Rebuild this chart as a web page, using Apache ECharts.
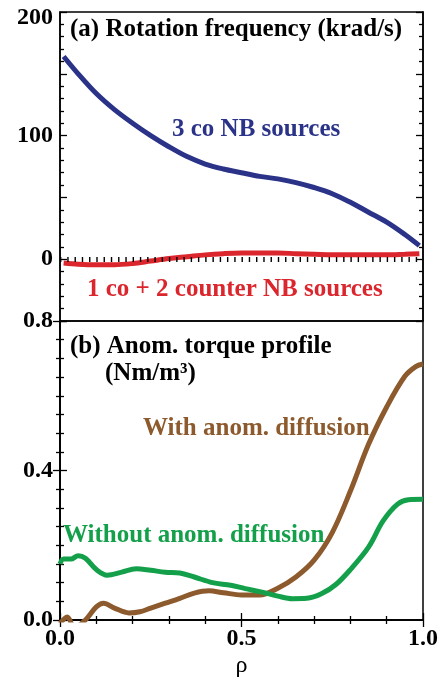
<!DOCTYPE html>
<html>
<head>
<meta charset="utf-8">
<script src="https://cdn.jsdelivr.net/npm/echarts@6/dist/echarts.min.js"></script>
<style>
    html, body {margin: 0; padding: 0; background: #fff;}
    #chart {width: 446px; height: 679px;}
</style>
</head>
<body>
<div id="chart"></div>
<script>
// (a) rotation frequency, krad/s
var rhoA = [0.01, 0.05, 0.10, 0.15, 0.20, 0.25, 0.30, 0.35, 0.40, 0.45, 0.50,
    0.55, 0.60, 0.65, 0.70, 0.75, 0.80, 0.85, 0.90, 0.95, 0.99];
var coSources = [164, 150, 134, 121, 110, 100, 91, 83, 77, 73, 70,
    67, 65, 62, 58, 53, 46, 38, 30, 20, 11];
var counterSources = [-3, -4, -4.5, -4.5, -3.5, -1.5, 0.5, 2, 3.5, 4.5, 5,
    5, 5, 4.5, 4, 3.5, 3.5, 3.5, 3.5, 4, 4.5];

// (b) anomalous torque profile, Nm/m3
var rhoWith = [0.00, 0.02, 0.04, 0.07, 0.10, 0.12, 0.15, 0.19, 0.22, 0.25, 0.29, 0.33, 0.37,
    0.41, 0.45, 0.50, 0.55, 0.60, 0.65, 0.70, 0.75, 0.80, 0.85, 0.90, 0.95, 0.98, 1.00];
var withDiff = [-0.01, 0.008, -0.02, 0.0, 0.035, 0.045, 0.032, 0.019, 0.022, 0.032, 0.045, 0.058, 0.072,
    0.078, 0.073, 0.067, 0.067, 0.085, 0.115, 0.16, 0.234, 0.345, 0.47, 0.57, 0.652, 0.678, 0.685];
var rhoWithout = [0.00, 0.01, 0.03, 0.05, 0.07, 0.10, 0.13, 0.17, 0.21, 0.25, 0.29, 0.33, 0.37, 0.42,
    0.47, 0.51, 0.55, 0.60, 0.64, 0.68, 0.72, 0.76, 0.80, 0.85, 0.89, 0.93, 0.96, 1.00];
var withoutDiff = [0.15, 0.163, 0.163, 0.172, 0.165, 0.135, 0.12, 0.128, 0.137, 0.133, 0.128, 0.126, 0.115, 0.1,
    0.093, 0.084, 0.076, 0.064, 0.057, 0.058, 0.07, 0.095, 0.135, 0.195, 0.265, 0.31, 0.322, 0.323];

var FONT = "'Liberation Serif', 'DejaVu Serif', serif";
var C_BLUE = '#2a3388', C_RED = '#da262c', C_BROWN = '#8c5a2c', C_GREEN = '#14a04a';
var TXT = 25;

function pairs(xs, ys) {
    return xs.map(function (x, i) { return [x, ys[i]]; });
}

function labelStyle(extra) {
    var s = {fontFamily: FONT, fontWeight: 'bold', fontSize: 24, color: '#000'};
    for (var k in extra) { s[k] = extra[k]; }
    return s;
}

// y axis shared settings
function yAxisOf(grid, pos, min, max, interval, minorSplit, labels) {
    return {
        type: 'value', gridIndex: grid, position: pos,
        min: min, max: max, interval: interval,
        axisLine: {show: true, lineStyle: {color: '#000', width: 1.5}},
        axisTick: {show: true, inside: true, length: 7, lineStyle: {color: '#000', width: 1.3}},
        minorTick: {show: true, splitNumber: minorSplit, length: 4, lineStyle: {color: '#000', width: 1.3}},
        splitLine: {show: false},
        axisLabel: labels || {show: false}
    };
}

function text(x, y, str, color) {
    return {
        type: 'text', left: x, top: y - TXT / 2 + 2,
        style: {text: str, fill: color, font: 'bold ' + TXT + 'px ' + FONT}
    };
}

function line(name, xi, yi, data, color, extra) {
    var s = {
        name: name, type: 'line', xAxisIndex: xi, yAxisIndex: yi, data: data,
        smooth: 0.35, symbol: 'none', lineStyle: {color: color, width: 5}
    };
    for (var j in extra) { s[j] = extra[j]; }
    return s;
}

var chart = echarts.init(document.getElementById('chart'));
chart.setOption({
    animation: false,
    grid: [
        {left: 60, top: 12, width: 363, height: 309, show: true, borderColor: '#000', borderWidth: 1.5},
        {left: 60, top: 321, width: 363, height: 309, show: true, borderColor: '#000', borderWidth: 1.5}
    ],
    xAxis: [
        {type: 'value', gridIndex: 0, min: 0, max: 1, show: false},
        {
            type: 'value', gridIndex: 1, position: 'bottom', min: 0, max: 1, interval: 0.5,
            axisLine: {lineStyle: {color: '#000', width: 1.5}},
            axisTick: {inside: true, length: 7, lineStyle: {color: '#000', width: 1.3}},
            minorTick: {show: true, splitNumber: 5, length: 4, lineStyle: {color: '#000', width: 1.3}},
            splitLine: {show: false},
            axisLabel: labelStyle({margin: 7, formatter: function (v) { return v.toFixed(1); }}),
            name: 'ρ', nameLocation: 'middle', nameGap: 34,
            nameTextStyle: {fontFamily: FONT, fontSize: 24, color: '#000'}
        },
        {
            type: 'value', gridIndex: 1, position: 'top', min: 0, max: 1, interval: 0.5,
            axisLine: {lineStyle: {color: '#000', width: 1.5}},
            axisTick: {inside: true, length: 7, lineStyle: {color: '#000', width: 1.3}},
            minorTick: {show: true, splitNumber: 5, length: 4, lineStyle: {color: '#000', width: 1.3}},
            splitLine: {show: false},
            axisLabel: {show: false}
        }
    ],
    yAxis: [
        yAxisOf(0, 'left', -50, 200, 50, 5, labelStyle({
            margin: 7,
            formatter: function (v) {
                if (v === 200) return '{top|200}';
                return v % 100 === 0 ? String(v) : '';
            },
            rich: {top: labelStyle({padding: [12, 0, 0, 0]})}
        })),
        yAxisOf(0, 'right', -50, 200, 50, 5),
        yAxisOf(1, 'left', 0, 0.8, 0.4, 8, labelStyle({
            margin: 7,
            formatter: function (v) { return v.toFixed(1); }
        })),
        yAxisOf(1, 'right', 0, 0.8, 0.4, 8)
    ],
    series: [
        line('3 co NB sources', 0, 0, pairs(rhoA, coSources), C_BLUE),
        line('1 co + 2 counter NB sources', 0, 0, pairs(rhoA, counterSources), C_RED, {
            markLine: {
                silent: true, symbol: 'none', label: {show: false},
                lineStyle: {color: '#000', width: 5, type: [1.4, 5.86], cap: 'butt'},
                data: [{yAxis: 0}]
            }
        }),
        line('With anom. diffusion', 1, 2, pairs(rhoWith, withDiff), C_BROWN),
        line('Without anom. diffusion', 1, 2, pairs(rhoWithout, withoutDiff), C_GREEN)
    ],
    graphic: [
        text(70, 28, '(a) Rotation frequency (krad/s)', '#000'),
        text(172, 128, '3 co NB sources', C_BLUE),
        text(87, 288, '1 co + 2 counter NB sources', C_RED),
        text(70, 345, '(b) Anom. torque profile', '#000'),
        text(105, 372, '(Nm/m³)', '#000'),
        text(143, 427, 'With anom. diffusion', C_BROWN),
        text(63, 534, 'Without anom. diffusion', C_GREEN)
    ]
});
</script>
</body>
</html>
